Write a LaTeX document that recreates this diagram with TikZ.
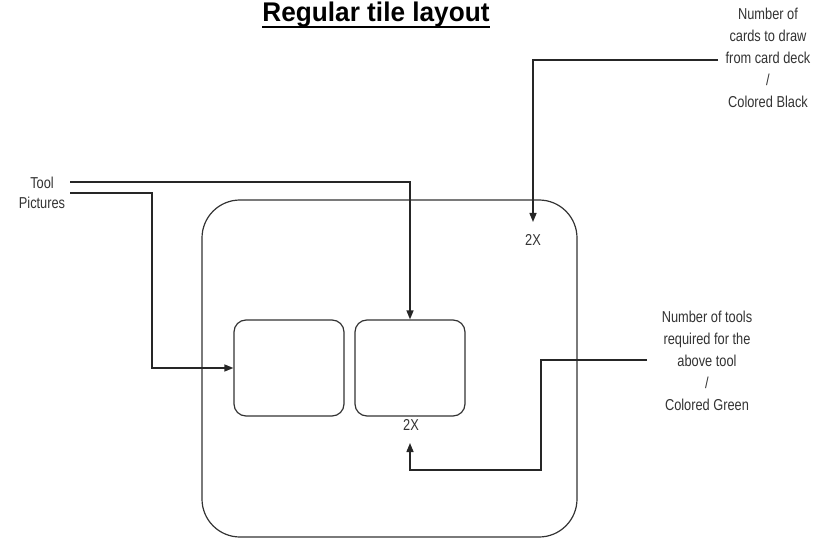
\documentclass[tikz,border=0pt]{standalone}
\usepackage{fontspec}
\setmainfont{Liberation Sans}
\newfontfamily\lblfont[FakeStretch=0.81]{Liberation Sans}
\newfontfamily\ttlfont[FakeStretch=0.97]{Liberation Sans}
\usetikzlibrary{arrows.meta}
\begin{document}
\begin{tikzpicture}[x=1pt,y=-1pt,
  lbl/.style={font=\lblfont\fontsize{15.8}{22}\selectfont, text=black!80, align=center, inner sep=0pt},
  tile/.style={draw=black!80, line width=1.2pt, rounded corners=#1},
  conn/.style={draw=black!85, line width=1.4pt},
  arr/.style={conn, -{Triangle[length=9pt,width=7pt]}}]
\useasboundingbox (0,0) rectangle (817,540);
% title
\node[font=\ttlfont\bfseries\fontsize{27}{30}\selectfont, anchor=base, inner sep=0pt] (title) at (376,22) {Regular tile layout};
\draw[line width=1.8pt] ([yshift=-5pt]title.base west) -- ([yshift=-5pt]title.base east);
% tiles
\draw[tile=38pt] (202,200) rectangle (577,537);
\node[tile=12pt, minimum width=110pt, minimum height=96pt, inner sep=0pt] (left) at (289,368) {};
\node[tile=12pt, minimum width=110pt, minimum height=96pt, inner sep=0pt] (right) at (410,368) {};
% labels
\node[lbl, font=\lblfont\fontsize{15.8}{20}\selectfont] (tool) at (42,193) {Tool\\Pictures};
\node[lbl] (cards) at (768,58) {Number of\\cards to draw\\from card deck\\/\\Colored Black};
\node[lbl] (tools) at (707,361) {Number of tools\\required for the\\above tool\\/\\Colored Green};
\node[lbl] (twoA) at (533,240) {2X};
\node[lbl] (twoB) at (411,425) {2X};
% coordinates
\coordinate (t1) at (70,182);
\coordinate (t2) at (70,193);
\coordinate (c1) at (718,60);
\coordinate (g1) at (647,360);
\coordinate (g2) at (541,470);
\coordinate (h3) at (410,443);
\coordinate (h1) at (533,222);
% connectors
\draw[arr] (t1) -| (right.north);
\draw[arr] (t2) -- (152,193) |- (left.west);
\draw[arr] (c1) -| (h1);
\draw[arr] (g1) -- (541,360) -- (g2) -| (h3);
\end{tikzpicture}
\end{document}
